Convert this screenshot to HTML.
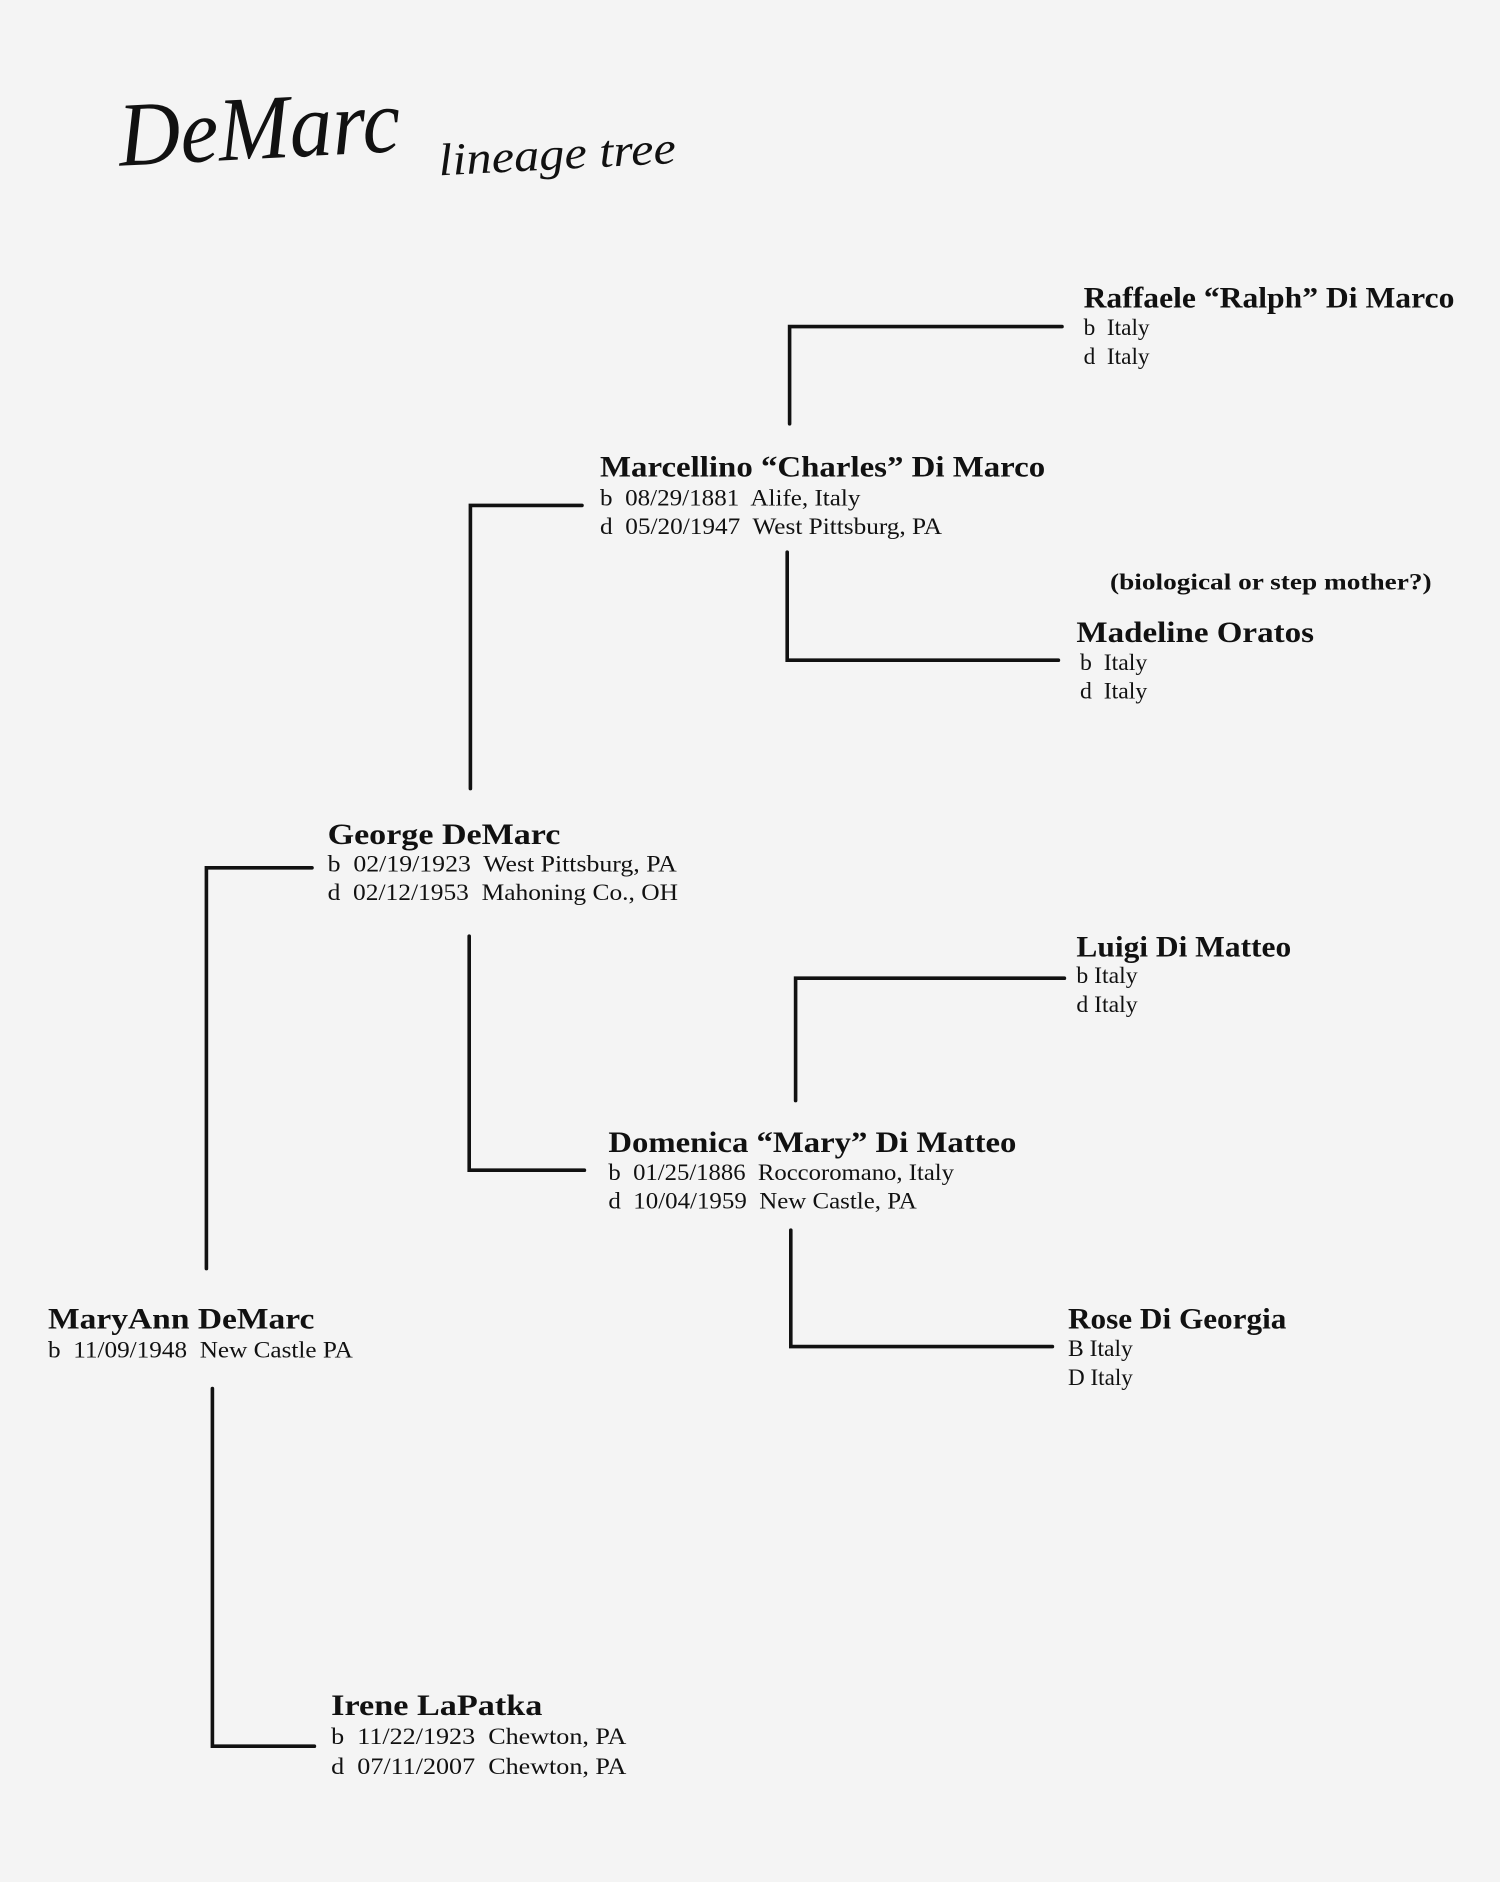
<!DOCTYPE html>
<html><head><meta charset="utf-8"><style>
html,body{margin:0;padding:0;background:#f4f4f4;}
svg{display:block}
text{white-space:pre}
.n{font-family:"Liberation Serif",serif;font-weight:bold;font-size:25px;fill:#111}
.d{font-family:"Liberation Serif",serif;font-size:19.5px;fill:#111}
.l{stroke:#111;stroke-width:3;fill:none;stroke-linecap:round}
</style></head><body>
<svg width="1500" height="1882" viewBox="0 0 1250 1568" xmlns="http://www.w3.org/2000/svg" xml:space="preserve">
<rect width="1250" height="1568" fill="#f4f4f4"/>
<text x="100" y="138" font-family="Liberation Serif,serif" font-style="italic" font-size="76" fill="#111" transform="rotate(-3 100 138)" textLength="235" lengthAdjust="spacingAndGlyphs">DeMarc</text>
<text x="366" y="146" font-family="Liberation Serif,serif" font-style="italic" font-size="38" fill="#111" transform="rotate(-3 366 146)" textLength="198" lengthAdjust="spacingAndGlyphs">lineage tree</text>

<path class="l" d="M658 353 V272 H885"/>
<path class="l" d="M485 421 H392 V657"/>
<path class="l" d="M656 460 V550 H882"/>
<path class="l" d="M260 723 H172 V1057"/>
<path class="l" d="M391 780 V975 H487"/>
<path class="l" d="M663 917 V815 H887"/>
<path class="l" d="M659 1025 V1122 H877"/>
<path class="l" d="M177 1157 V1455 H262"/>

<text class="n" x="903" y="256" textLength="309" lengthAdjust="spacingAndGlyphs">Raffaele “Ralph” Di Marco</text>
<text class="d" x="903" y="279" textLength="55" lengthAdjust="spacingAndGlyphs">b  Italy</text>
<text class="d" x="903" y="303" textLength="55" lengthAdjust="spacingAndGlyphs">d  Italy</text>

<text class="n" x="500" y="397" textLength="371" lengthAdjust="spacingAndGlyphs">Marcellino “Charles” Di Marco</text>
<text class="d" x="500" y="421" textLength="217" lengthAdjust="spacingAndGlyphs">b  08/29/1881  Alife, Italy</text>
<text class="d" x="500" y="445" textLength="285" lengthAdjust="spacingAndGlyphs">d  05/20/1947  West Pittsburg, PA</text>

<text class="d" x="925" y="491" style="font-weight:bold" textLength="268" lengthAdjust="spacingAndGlyphs">(biological or step mother?)</text>
<text class="n" x="897" y="535" textLength="198" lengthAdjust="spacingAndGlyphs">Madeline Oratos</text>
<text class="d" x="900" y="558" textLength="56" lengthAdjust="spacingAndGlyphs">b  Italy</text>
<text class="d" x="900" y="582" textLength="56" lengthAdjust="spacingAndGlyphs">d  Italy</text>

<text class="n" x="273" y="703" textLength="194" lengthAdjust="spacingAndGlyphs">George DeMarc</text>
<text class="d" x="273" y="726" textLength="291" lengthAdjust="spacingAndGlyphs">b  02/19/1923  West Pittsburg, PA</text>
<text class="d" x="273" y="750" textLength="292" lengthAdjust="spacingAndGlyphs">d  02/12/1953  Mahoning Co., OH</text>

<text class="n" x="897" y="797" textLength="179" lengthAdjust="spacingAndGlyphs">Luigi Di Matteo</text>
<text class="d" x="897" y="819" textLength="51" lengthAdjust="spacingAndGlyphs">b Italy</text>
<text class="d" x="897" y="843" textLength="51" lengthAdjust="spacingAndGlyphs">d Italy</text>

<text class="n" x="507" y="960" textLength="340" lengthAdjust="spacingAndGlyphs">Domenica “Mary” Di Matteo</text>
<text class="d" x="507" y="983" textLength="288" lengthAdjust="spacingAndGlyphs">b  01/25/1886  Roccoromano, Italy</text>
<text class="d" x="507" y="1007" textLength="257" lengthAdjust="spacingAndGlyphs">d  10/04/1959  New Castle, PA</text>

<text class="n" x="890" y="1107" textLength="182" lengthAdjust="spacingAndGlyphs">Rose Di Georgia</text>
<text class="d" x="890" y="1130" textLength="54" lengthAdjust="spacingAndGlyphs">B Italy</text>
<text class="d" x="890" y="1154" textLength="54" lengthAdjust="spacingAndGlyphs">D Italy</text>

<text class="n" x="40" y="1107" textLength="222" lengthAdjust="spacingAndGlyphs">MaryAnn DeMarc</text>
<text class="d" x="40" y="1131" textLength="254" lengthAdjust="spacingAndGlyphs">b  11/09/1948  New Castle PA</text>

<text class="n" x="276" y="1429" textLength="176" lengthAdjust="spacingAndGlyphs">Irene LaPatka</text>
<text class="d" x="276" y="1453" textLength="246" lengthAdjust="spacingAndGlyphs">b  11/22/1923  Chewton, PA</text>
<text class="d" x="276" y="1478" textLength="246" lengthAdjust="spacingAndGlyphs">d  07/11/2007  Chewton, PA</text>
</svg>
</body></html>
